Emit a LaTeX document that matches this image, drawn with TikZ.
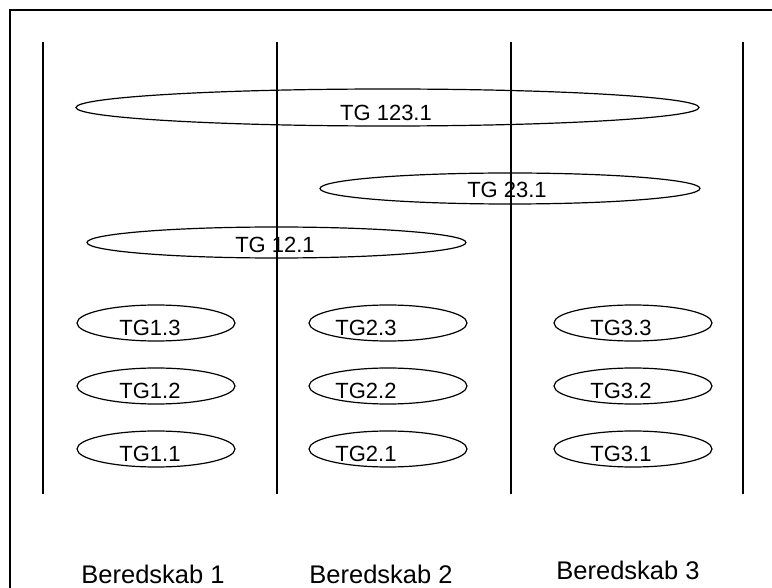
\documentclass[tikz,border=0pt]{standalone}
\usepackage{fontspec}
\setmainfont{Liberation Sans}
\usetikzlibrary{shapes.geometric}

\begin{document}
\begin{tikzpicture}[x=1pt,y=-1pt,
  grp/.style={draw,ellipse,line width=1.2pt,inner sep=0pt},
  tg/.style={font=\fontsize{22}{24}\selectfont,inner sep=0pt},
  skab/.style={font=\fontsize{25.5}{28}\selectfont,inner sep=0pt}]
\useasboundingbox (0,0) rectangle (772,588);
\begin{scope}
\clip (0,0) rectangle (772,588);
\draw[line width=1.2pt] (10,10) rectangle (790,600);
\end{scope}
% skabe
\foreach \x in {43,277,511,743}
  \draw[line width=1.2pt] (\x,42) -- (\x,494);
% store grupper
\node[grp,minimum width=623pt,minimum height=37pt] (g123) at (387.5,107.5) {};
\node[tg] (t123) at (386,113) {TG 123.1};
\node[grp,minimum width=380pt,minimum height=31pt] (g23) at (510,188.5) {};
\node[tg] (t23) at (507,190) {TG 23.1};
\node[grp,minimum width=379pt,minimum height=31pt] (g12) at (276.5,242.5) {};
\node[tg] (t12) at (275,245) {TG 12.1};
% smaa grupper
\foreach \c/\x/\tx in {1/156/150,2/388/366,3/633/621}
  \foreach \r/\y in {3/323,2/386,1/449} {
    \node[grp,minimum width=158pt,minimum height=36pt] (g\c\r) at (\x,\y) {};
    \node[tg] (t\c\r) at (\tx,\y+5) {TG\c.\r};
  }
% navne
\node[skab] (b1) at (153,574) {Beredskab 1};
\node[skab] (b2) at (381,574) {Beredskab 2};
\node[skab] (b3) at (628,570) {Beredskab 3};
\end{tikzpicture}
\end{document}
